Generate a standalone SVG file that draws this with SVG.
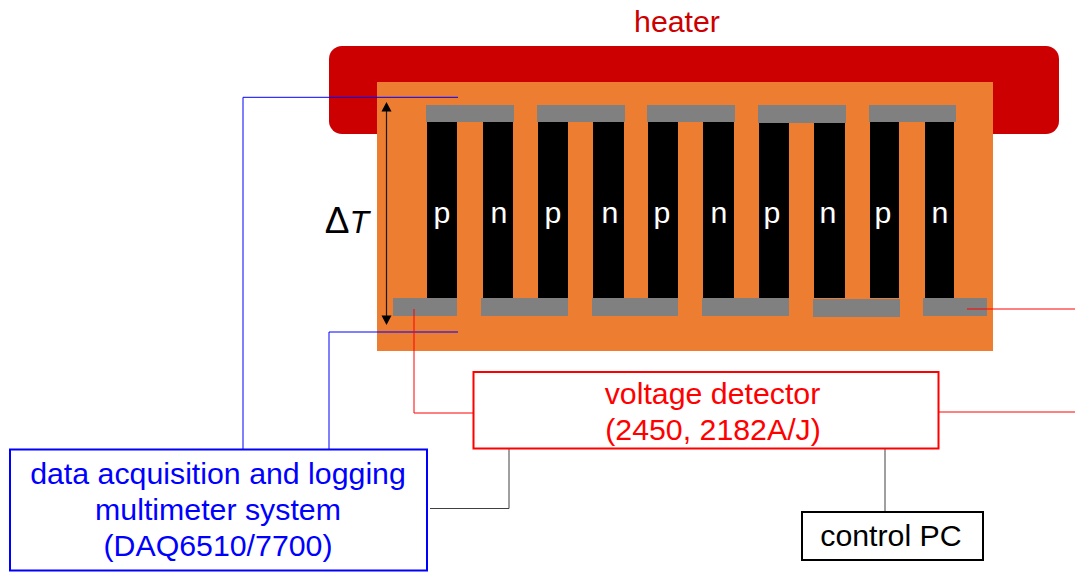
<svg xmlns="http://www.w3.org/2000/svg" width="1075" height="572" viewBox="0 0 1075 572">
<style>
text{font-family:"Liberation Sans",Arial,sans-serif;text-anchor:middle}
.t{font-size:30.300px}
.b{fill:#0000ff}.r{fill:#ff0000}
.leg{fill:#000}.pad{fill:#808080}
.lbl{fill:#fff;font-size:30.300px}
.w{fill:none;stroke-width:1}
.box{fill:#fff;stroke-width:2}
.head{fill:#000}
</style>
<g id="heater"><rect x="329" y="46" width="730" height="88" rx="13" fill="#cc0000"/><text x="677" y="32" class="t" style="fill:#cc0000">heater</text></g>
<g id="module">
<rect x="377" y="82" width="616" height="269" fill="#ed7d31"/>
<rect class="leg" x="427" y="122" width="30" height="176"/><rect class="leg" x="483" y="122" width="30" height="176"/>
<rect class="leg" x="538" y="122" width="30" height="176"/><rect class="leg" x="593" y="122" width="31" height="176"/>
<rect class="leg" x="648" y="122" width="30" height="176"/><rect class="leg" x="703" y="122" width="31" height="176"/>
<rect class="leg" x="759" y="122" width="30" height="176"/><rect class="leg" x="814" y="122" width="31" height="176"/>
<rect class="leg" x="870" y="122" width="29" height="176"/><rect class="leg" x="925" y="122" width="29" height="176"/>
<rect class="pad" x="426" y="105" width="88" height="17"/><rect class="pad" x="537" y="105" width="88" height="17"/>
<rect class="pad" x="647" y="105" width="88" height="17"/><rect class="pad" x="758" y="105" width="88" height="18"/>
<rect class="pad" x="869" y="105" width="87" height="17"/>
<rect class="pad" x="393" y="298" width="64" height="18"/><rect class="pad" x="481" y="298" width="87" height="18"/>
<rect class="pad" x="592" y="298" width="86" height="18"/><rect class="pad" x="702" y="298" width="87" height="18"/>
<rect class="pad" x="813" y="299" width="87" height="18"/><rect class="pad" x="923" y="298" width="64" height="18"/>
<text class="lbl" x="442" y="223">p</text><text class="lbl" x="499" y="223">n</text>
<text class="lbl" x="553" y="223">p</text><text class="lbl" x="610" y="223">n</text>
<text class="lbl" x="662" y="223">p</text><text class="lbl" x="719" y="223">n</text>
<text class="lbl" x="772" y="223">p</text><text class="lbl" x="828" y="223">n</text>
<text class="lbl" x="883" y="223">p</text><text class="lbl" x="940" y="223">n</text>
</g>
<g id="delta-t">
<line x1="386.500" y1="108" x2="386.500" y2="320" stroke="#1a1a1a" stroke-width="1.200"/>
<path class="head" d="M386.500 102L391.500 111.500H381.500Z"/>
<path class="head" d="M386.500 325L391.500 315.500H381.500Z"/>
<text x="347" y="233" style="font-size:37px">Δ<tspan font-size="32" font-style="italic">T</tspan></text>
</g>
<g id="connectors">
<path class="w" stroke="#0000ff" d="M243 449V97.300H458"/>
<path class="w" stroke="#0000ff" d="M329 449V332H458"/>
<path class="w" stroke="#ff0000" d="M414 309V413H473"/>
<path class="w" stroke="#ff0000" d="M967 309H1075"/>
<path class="w" stroke="#ff0000" d="M939 412H1075"/>
<path class="w" stroke="#404040" d="M509 449V508.500H430"/>
<path class="w" stroke="#404040" d="M885 449V511"/>
</g>
<g id="voltage-detector"><rect class="box" x="473.500" y="372" width="465" height="76.500" stroke="#ff0000"/>
<text class="t r" x="712.500" y="404">voltage detector</text><text class="t r" x="713" y="440">(2450, 2182A/J)</text></g>
<g id="daq"><rect class="box" x="10" y="449.500" width="417" height="121" stroke="#0000ff"/>
<text class="t b" x="218" y="484">data acquisition and logging</text><text class="t b" x="218" y="520">multimeter system</text><text class="t b" x="218" y="556">(DAQ6510/7700)</text></g>
<g id="control-pc"><rect class="box" x="802" y="512" width="181" height="48" stroke="#000"/><text class="t" x="891" y="546">control PC</text></g>
</svg>
